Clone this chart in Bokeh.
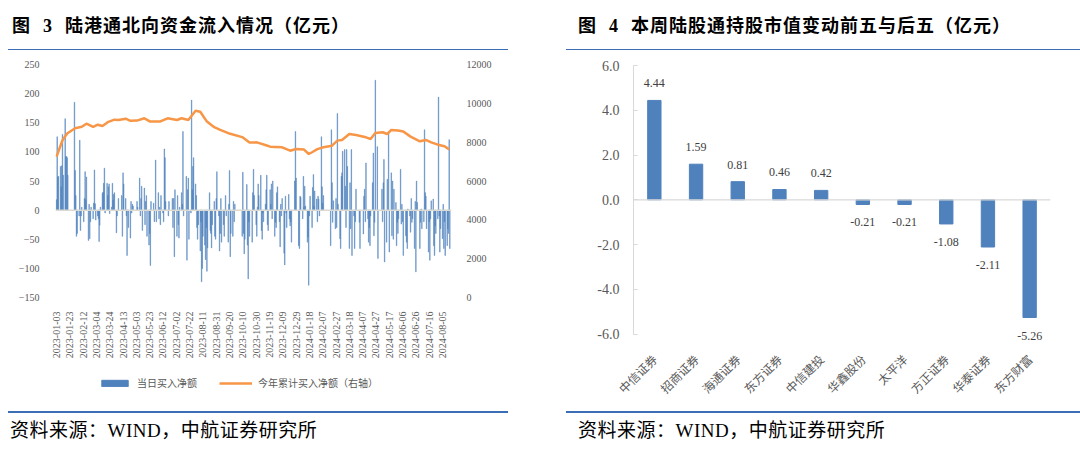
import pandas as pd
import numpy as np
from bokeh.plotting import figure
from bokeh.layouts import row, column
from bokeh.models import (ColumnDataSource, Range1d, LinearAxis, FixedTicker, Div,
                          DatetimeTickFormatter, Span, Legend,
                          LegendItem, FactorRange, NumeralTickFormatter, LabelSet)
from bokeh.embed import file_html
from bokeh.resources import INLINE
from bokeh.core.properties import value

# ---------------- data: left chart (daily northbound net buy, 亿元) ----------------
flows_2023_01 = [18, 126, 57, 58, 75, 40, 76, 130, 60, 157, 92, 92, 90, 60, 185, 68]
flows_2023_02 = [25, -45, -40, -10, 120, -35, -10, 5, -20, 20, 66, 18, 57, -52, 10, -49, -20, 5, -15, 12]
flows_2023_03 = [69, 11, -17, -10, -15, -54, -26, 5, 29, 31, 46, 72, -5, 46, 25, 40, 45, -6, 5, 46, 17, 27, 30]
flows_2023_04 = [-39, -10, 20, 25, -45, 64, 45, 20, -10, -78, 0, -30, -48, 15, -5, 10, 7]
flows_2023_05 = [15, 5, 55, -10, 20, 41, -35, 38, -25, 15, 25, -45, -60, -40, -95, 15, 12, -20, 0]
flows_2023_06 = [86, -20, 30, -15, 5, -25, 25, -5, -20, 105, 90, 15, 0, -10, 15, 20, -30, 20, -80, 35]
flows_2023_07 = [-45, 25, -25, -48, 5, 30, 10, 135, -10, 0, 58, -86, 35, 55, -50, -5, 189, 35, 75, 90, 45]
flows_2023_08 = [25, -30, -50, -25, -70, -20, -123, -100, -45, -60, -85, -30, -105, -65, 30, -35, -40, -65, -25, 15, -45, -50, 20]
flows_2023_09 = [66, -10, -70, -40, 20, -55, -25, -45, 0, 25, -10, -55, 10, 68, -80, -40, -45, 15, -20, 10]
flows_2023_10 = [-45, 65, -40, -75, -50, 44, -60, -118, -20, -45, -55, 30, 70, 25, -25, -45]
flows_2023_11 = [5, 45, 25, 60, -35, -50, -5, -20, 10, 35, 60, -25, -35, 35, 10, 45, -15, 50, -45, -21, -30, 30]
flows_2023_12 = [40, -20, -63, 10, -10, 20, -74, -94, 24, -5, -30, 27, -15, -27, -20, -55, 50, 135, 55]
flows_2024_01 = [-61, -66, 24, 22, -15, 58, 5, 41, 7, -55, -46, -129, -10, 24, -30, 39, 61, 7, 33, 19, -20, 24]
flows_2024_02 = [19, -10, 126, 40, 12, 25, -61, 138, 47, -21, 16, -32, 20, -30, 166]
flows_2024_03 = [10, -49, -66, 58, 64, 101, 104, 41, -30, 104, 75, -66, 47, -32, 104, -78, -10, -66, -20, 36]
flows_2024_04 = [-21, -66, -41, 24, 36, -20, 81, -15, -55, -30, -61, -10, 47, 98, -44, -21, 223, 109, -83]
flows_2024_05 = [36, -20, 47, 87, -89, -55, 53, 135, -72, 64, -44, 50, -50, 36, 13, -61, -21, -40, -15]
flows_2024_06 = [70, -24, 10, -20, -78, -44, -55, -66, 2, -10, -38, 20, -21, -15, -66, 15, -106, 50, 13]
flows_2024_07 = [-66, -21, 2, -32, -20, 138, 30, 24, -32, -72, -20, -86, -15, 16, 19, -61, -78, -27, -40, -15, 194, -10]
flows_2024_08 = [-72, -32, -49, 10, -66, -20, -78, -61, -32, -40, 121, -66]

# weekdays without northbound trading
holidays = ["2023-01-02", "2023-01-23", "2023-01-24", "2023-01-25", "2023-01-26", "2023-01-27",
            "2023-04-05", "2023-04-07", "2023-04-10", "2023-05-01", "2023-05-02", "2023-05-03",
            "2023-05-26", "2023-06-22", "2023-06-23", "2023-09-29", "2023-10-02", "2023-10-03",
            "2023-10-04", "2023-10-05", "2023-10-06", "2023-10-23", "2023-12-25", "2023-12-26",
            "2024-01-01", "2024-02-09", "2024-02-12", "2024-02-13", "2024-02-14", "2024-02-15",
            "2024-02-16", "2024-03-29", "2024-04-01", "2024-04-04", "2024-04-05", "2024-05-01",
            "2024-05-02", "2024-05-03", "2024-05-15", "2024-06-10", "2024-07-01"]

# cumulative net buy (右轴)
cum_dates = ["2023-01-03", "2023-01-12", "2023-01-19", "2023-01-31", "2023-02-10", "2023-02-17",
             "2023-02-27", "2023-03-06", "2023-03-13", "2023-03-21", "2023-03-31", "2023-04-06",
             "2023-04-17", "2023-04-24", "2023-05-04", "2023-05-15", "2023-05-24", "2023-06-08",
             "2023-06-19", "2023-07-03", "2023-07-10", "2023-07-20", "2023-07-31", "2023-08-07",
             "2023-08-17", "2023-08-28", "2023-09-06", "2023-09-21", "2023-10-09", "2023-10-20",
             "2023-10-31", "2023-11-15", "2023-11-20", "2023-12-08", "2023-12-20", "2023-12-29",
             "2024-01-10", "2024-01-17", "2024-01-22", "2024-01-30", "2024-02-08", "2024-02-21",
             "2024-02-29", "2024-03-07", "2024-03-18", "2024-03-28", "2024-04-12", "2024-04-19",
             "2024-04-26", "2024-05-07", "2024-05-14", "2024-05-20", "2024-05-30", "2024-06-07",
             "2024-06-18", "2024-07-02", "2024-07-11", "2024-07-19", "2024-07-29", "2024-08-08",
             "2024-08-15"]
cum_values = [7250, 8100, 8450, 8720, 8790, 8950, 8790, 8900, 8830, 9030, 9160, 9140,
              9210, 9100, 9110, 9230, 9060, 9070, 9230, 9140, 9230, 9140, 9620, 9570,
              9060, 8770, 8630, 8430, 8260, 7980, 7990, 7830, 7770, 7735, 7560, 7650,
              7620, 7390, 7480, 7640, 7735, 7820, 8080, 8115, 8420, 8370, 8250, 8165,
              8475, 8510, 8420, 8630, 8600, 8550, 8285, 8045, 8115, 7990, 7870, 7790,
              7630]

date_tick_labels = ["2023-01-03", "2023-01-23", "2023-02-12", "2023-03-04", "2023-03-24",
                    "2023-04-13", "2023-05-03", "2023-05-23", "2023-06-12", "2023-07-02",
                    "2023-07-22", "2023-08-11", "2023-08-31", "2023-09-20", "2023-10-10",
                    "2023-10-30", "2023-11-19", "2023-12-09", "2023-12-29", "2024-01-18",
                    "2024-02-07", "2024-02-27", "2024-03-18", "2024-04-07", "2024-04-27",
                    "2024-05-17", "2024-06-06", "2024-06-26", "2024-07-16", "2024-08-05"]
left_ticks = [-150, -100, -50, 0, 50, 100, 150, 200, 250]
right_ticks = [0, 2000, 4000, 6000, 8000, 10000, 12000]
legend_labels = ["当日买入净额", "今年累计买入净额（右轴）"]

# ---------------- data: right chart ----------------
stocks = ["中信证券", "招商证券", "海通证券", "东方证券", "中信建投",
          "华鑫股份", "太平洋", "方正证券", "华泰证券", "东方财富"]
changes = [4.44, 1.59, 0.81, 0.46, 0.42, -0.21, -0.21, -1.08, -2.11, -5.26]
right_yticks = [-6, -4, -2, 0, 2, 4, 6]

title_left = "陆港通北向资金流入情况（亿元）"
title_right = "本周陆股通持股市值变动前五与后五（亿元）"
source_text = "资料来源：WIND，中航证券研究所"

# ---------------- assemble dates ----------------
months = [(2023, 1, flows_2023_01), (2023, 2, flows_2023_02), (2023, 3, flows_2023_03),
          (2023, 4, flows_2023_04), (2023, 5, flows_2023_05), (2023, 6, flows_2023_06),
          (2023, 7, flows_2023_07), (2023, 8, flows_2023_08), (2023, 9, flows_2023_09),
          (2023, 10, flows_2023_10), (2023, 11, flows_2023_11), (2023, 12, flows_2023_12),
          (2024, 1, flows_2024_01), (2024, 2, flows_2024_02), (2024, 3, flows_2024_03),
          (2024, 4, flows_2024_04), (2024, 5, flows_2024_05), (2024, 6, flows_2024_06),
          (2024, 7, flows_2024_07), (2024, 8, flows_2024_08)]
hol = set(pd.to_datetime(holidays))
dates, flows = [], []
for y, m, vals in months:
    start = pd.Timestamp(y, m, 1)
    end = start + pd.offsets.MonthEnd(0)
    days = [d for d in pd.bdate_range(start, end) if d not in hol]
    for d, v in zip(days, vals):
        dates.append(d)
        flows.append(v)

SERIF = "Liberation Serif"
CJK = "Noto Sans CJK SC"
GREY = "#595959"
BLUE = "#4f81bd"
ORANGE = "#f79646"
RULE = "#3a6db3"
CSS_FONT = "'Liberation Serif', 'Noto Sans CJK SC', serif"


def no_align(p):
    try:
        p.frame_align = False
    except Exception:
        pass


def clean(p):
    p.grid.visible = False
    p.outline_line_color = None
    p.background_fill_color = "white"
    p.border_fill_color = "white"


# ================= LEFT FIGURE (page y 51..362) =================
p1 = figure(width=564, height=311, x_axis_type="datetime",
            x_range=Range1d(pd.Timestamp("2023-01-01 12:00"), pd.Timestamp("2024-08-18 12:00")),
            y_range=Range1d(-150, 250),
            output_backend="svg", toolbar_location=None,
            min_border_left=55, min_border_right=113, min_border_top=13, min_border_bottom=65)
no_align(p1)
clean(p1)
p1.extra_y_ranges = {"cum": Range1d(0, 12000)}

src = ColumnDataSource(dict(date=dates, flow=flows))
p1.vbar(x="date", top="flow", bottom=0, width=86400000 * 0.9, source=src,
        fill_color=BLUE, fill_alpha=0.9, line_color=BLUE, line_alpha=0.85, line_width=0.5)
cum_src = ColumnDataSource(dict(date=pd.to_datetime(cum_dates), cum=cum_values))
p1.line(x="date", y="cum", source=cum_src, y_range_name="cum",
        line_color=ORANGE, line_width=2.5)
p1.add_layout(Span(location=0, dimension="width", line_color="#dcdad2", line_width=1.5))

ax = p1.yaxis[0]
ax.ticker = FixedTicker(ticks=left_ticks)
ax.axis_line_color = None
ax.major_tick_line_color = None
ax.minor_tick_line_color = None
ax.major_label_text_font = SERIF
ax.major_label_text_font_size = "10px"
ax.major_label_text_color = GREY
ax.major_label_standoff = 10

rax = LinearAxis(y_range_name="cum", ticker=FixedTicker(ticks=right_ticks))
rax.axis_line_color = None
rax.major_tick_line_color = None
rax.minor_tick_line_color = None
rax.major_label_text_font = SERIF
rax.major_label_text_font_size = "10px"
rax.major_label_text_color = GREY
rax.major_label_standoff = 9
p1.add_layout(rax, "right")

xt = [pd.Timestamp(s).value // 10**6 for s in date_tick_labels]
xa = p1.xaxis[0]
xa.ticker = FixedTicker(ticks=xt)
fmt = "%Y-%m-%d"
xa.formatter = DatetimeTickFormatter(microseconds=fmt, milliseconds=fmt, seconds=fmt, minsec=fmt,
                                     minutes=fmt, hourmin=fmt, hours=fmt, days=fmt,
                                     months=fmt, years=fmt)
xa.major_label_orientation = np.pi / 2
xa.axis_line_color = None
xa.major_tick_line_color = None
xa.minor_tick_line_color = None
xa.major_label_text_font = SERIF
xa.major_label_text_font_size = "10px"
xa.major_label_text_color = GREY
xa.major_label_standoff = 8

# ================= LEGEND strip under the left chart (page y 362..411) =================
# same series drawn again on a strip whose ranges exclude them, so only the legend shows
pl = figure(width=564, height=49, x_range=Range1d(0, 1), y_range=Range1d(0, 1),
            output_backend="svg", toolbar_location=None,
            x_axis_location=None, y_axis_location=None,
            min_border_left=0, min_border_right=0, min_border_top=0, min_border_bottom=0)
no_align(pl)
clean(pl)
r_bar = pl.vbar(x="date", top="flow", width=86400000, source=src, fill_color=BLUE, line_color=BLUE)
r_line = pl.line(x="date", y="cum", source=cum_src, line_color=ORANGE, line_width=2.5)
leg = Legend(items=[LegendItem(label=legend_labels[0], renderers=[r_bar], index=0),
                    LegendItem(label=legend_labels[1], renderers=[r_line], index=0)],
             orientation="horizontal", location=(98, 21))
leg.border_line_color = None
leg.background_fill_alpha = 0
leg.padding = 0
leg.margin = 0
leg.spacing = 22
leg.label_standoff = 6
leg.glyph_width = 33
leg.glyph_height = 8
leg.label_height = 10
leg.label_text_font = CJK
leg.label_text_font_size = "10px"
leg.label_text_color = GREY
pl.add_layout(leg)

# ================= RIGHT FIGURE =================
p2 = figure(width=516, height=360, x_range=FactorRange(factors=stocks),
            y_range=Range1d(-6.6, 6), output_backend="svg", toolbar_location=None,
            min_border_left=69, min_border_right=30, min_border_top=14, min_border_bottom=64)
no_align(p2)
clean(p2)

p2.vbar(x=stocks, top=changes, width=0.32, fill_color=BLUE, line_color=BLUE)
p2.add_layout(Span(location=0, dimension="width", line_color="#d9d9d9", line_width=1.2))

lbl_src = ColumnDataSource(dict(x=stocks, y=changes, text=[f"{v:.2f}" for v in changes],
                                yoff=[17 if v > 0 else -18 for v in changes]))
p2.add_layout(LabelSet(x="x", y="y", text="text", y_offset="yoff", source=lbl_src,
                       text_align="center", text_baseline="middle",
                       text_font=value(SERIF), text_font_size=value("12px"),
                       text_color="#404040"))

ya = p2.yaxis[0]
ya.ticker = FixedTicker(ticks=right_yticks)
ya.formatter = NumeralTickFormatter(format="0.0")
ya.bounds = (-6, 6)
ya.axis_line_color = "#d9d9d9"
ya.major_tick_line_color = "#d9d9d9"
ya.major_tick_in = 4
ya.major_tick_out = 0
ya.minor_tick_line_color = None
ya.major_label_text_font = SERIF
ya.major_label_text_font_size = "14px"
ya.major_label_text_color = GREY
ya.major_label_standoff = 14

xb = p2.xaxis[0]
xb.major_label_orientation = np.pi / 4
xb.axis_line_color = None
xb.major_tick_line_color = None
xb.minor_tick_line_color = None
xb.major_label_text_font = CJK
xb.major_label_text_font_size = "12px"
xb.major_label_text_color = GREY
xb.major_label_standoff = 3

# ================= titles / rules / sources =================
top_html = f"""
<div style="position:relative;width:1080px;height:51px;font-family:{CSS_FONT};color:#000;">
  <div style="position:absolute;left:12px;top:15px;font-size:18px;line-height:22px;font-weight:bold;letter-spacing:1px;white-space:nowrap;">图<span style="margin-left:12px;margin-right:12px;">3</span>{title_left}</div>
  <div style="position:absolute;left:8px;top:48.5px;width:500px;height:1.6px;background:{RULE};"></div>
  <div style="position:absolute;left:578px;top:15px;font-size:18px;line-height:22px;font-weight:bold;letter-spacing:1px;white-space:nowrap;">图<span style="margin-left:12px;margin-right:12px;">4</span>{title_right}</div>
  <div style="position:absolute;left:566px;top:48.5px;width:514px;height:1.6px;background:{RULE};"></div>
</div>
"""
bot_html = f"""
<div style="position:relative;width:1080px;height:42px;font-family:{CSS_FONT};color:#000;">
  <div style="position:absolute;left:8px;top:0px;width:500px;height:1.6px;background:{RULE};"></div>
  <div style="position:absolute;left:566px;top:0px;width:514px;height:1.6px;background:{RULE};"></div>
  <div style="position:absolute;left:10px;top:9px;font-size:19px;line-height:22px;letter-spacing:0.5px;white-space:nowrap;">{source_text}</div>
  <div style="position:absolute;left:578px;top:9px;font-size:19px;line-height:22px;letter-spacing:0.5px;white-space:nowrap;">{source_text}</div>
</div>
"""
top_div = Div(text=top_html, width=1080, height=51, styles={"margin": "0", "padding": "0"})
bot_div = Div(text=bot_html, width=1080, height=42, styles={"margin": "0", "padding": "0"})

layout = column(top_div, row(column(p1, pl, spacing=0), p2, spacing=0), bot_div, spacing=0)
open("out.html", "w").write(file_html(layout, INLINE))
